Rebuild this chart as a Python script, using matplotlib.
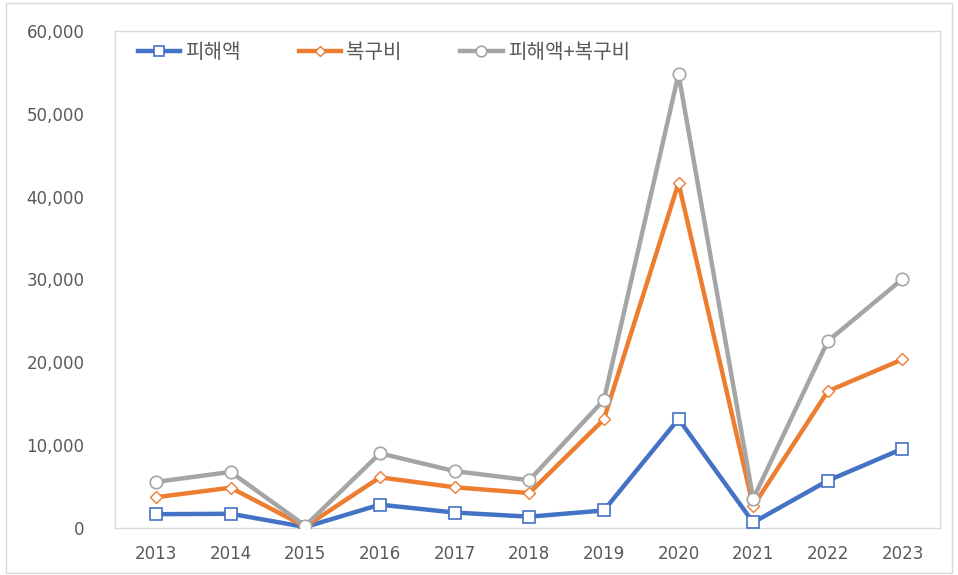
import matplotlib
matplotlib.use("Agg")
import matplotlib.pyplot as plt
from matplotlib.patches import Rectangle
from matplotlib.ticker import FuncFormatter

plt.rcParams["font.family"] = ["Noto Sans CJK KR", "DejaVu Sans"]

years = ["2013", "2014", "2015", "2016", "2017", "2018",
         "2019", "2020", "2021", "2022", "2023"]
damage = [1650, 1700, 100, 2800, 1850, 1350, 2100, 13150, 650, 5700, 9550]
recovery = [3700, 4850, 150, 6100, 4900, 4200, 13100, 41650, 2600, 16500, 20350]
total = [5550, 6750, 250, 9000, 6850, 5750, 15450, 54800, 3500, 22550, 30050]

series_names = ["피해액", "복구비", "피해액+복구비"]
colors = ["#4472C4", "#ED7D31", "#A5A5A5"]

fig = plt.figure(figsize=(9.58, 5.75), dpi=100)
ax = fig.add_axes([0.12, 0.082, 0.861, 0.864])

# outer chart border
fig.patches.append(Rectangle((0.006, 0.004), 0.988, 0.99, transform=fig.transFigure,
                             fill=False, edgecolor="#D9D9D9", linewidth=1.0))

x = range(len(years))
ax.plot(x, damage, color=colors[0], lw=3.2, marker="s", ms=9,
        mfc="white", mec=colors[0], mew=1.2, label=series_names[0], zorder=3)
ax.plot(x, recovery, color=colors[1], lw=3.2, marker="D", ms=6.5,
        mfc="white", mec=colors[1], mew=1.0, label=series_names[1], zorder=4)
ax.plot(x, total, color=colors[2], lw=3.2, marker="o", ms=9,
        mfc="white", mec=colors[2], mew=1.2, label=series_names[2], zorder=5)

ax.set_xlim(-0.55, len(years) - 0.5)
ax.set_ylim(0, 60000)
ax.set_xticks(list(x))
ax.set_xticklabels(years)
ax.set_yticks(range(0, 60001, 10000))
ax.yaxis.set_major_formatter(FuncFormatter(lambda v, p: f"{int(v):,}"))

ax.tick_params(axis="both", length=0, labelsize=12, labelcolor="#595959")
for lbl in ax.get_xticklabels() + ax.get_yticklabels():
    lbl.set_family("DejaVu Sans")
ax.tick_params(axis="y", pad=22)
ax.tick_params(axis="x", pad=12)
for s in ax.spines.values():
    s.set_color("#D9D9D9")
    s.set_linewidth(1.0)

leg = ax.legend(loc="upper left", ncol=3, frameon=False, fontsize=14.5,
                handlelength=2.1, handletextpad=0.25, columnspacing=2.9,
                markerscale=0.85, borderaxespad=0.0,
                bbox_to_anchor=(0.018, 0.995))
for t in leg.get_texts():
    t.set_color("#595959")

fig.savefig("out.png", dpi=100)
